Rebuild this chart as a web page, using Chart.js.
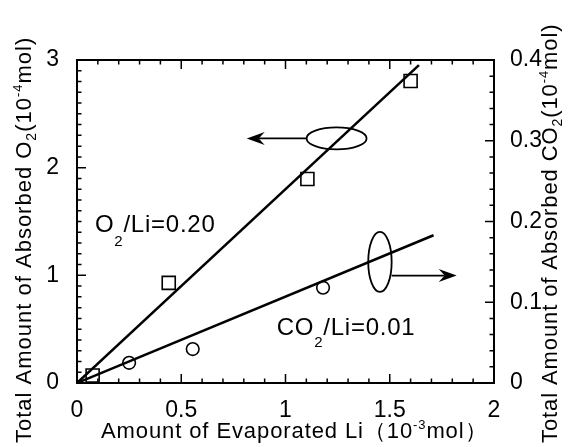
<!DOCTYPE html>
<html>
<head>
<meta charset="utf-8">
<title>Absorbed O2 and CO2 vs evaporated Li</title>
<script src="https://cdn.jsdelivr.net/npm/chart.js@4"></script>
<style>
  html, body { margin: 0; padding: 0; background: #fff; }
  canvas { display: block; }
</style>
</head>
<body>
<canvas id="absorption" width="568" height="447"></canvas>
<script>
const FONT = '"Liberation Sans", Arial, sans-serif';

// evaporated Li (10^-3 mol) against absorbed gas (10^-4 mol)
const o2Li = [0.075, 0.44, 1.105, 1.60];
const o2Absorbed = [0.07, 0.93, 1.895, 2.805];
const co2Li = [0.25, 0.555, 1.18];
const co2Absorbed = [0.025, 0.042, 0.118];

// fitted lines, both through the origin
const o2FitLi = [0, 1.64];
const o2Fit = [0, 2.953];
const co2FitLi = [0, 1.71];
const co2Fit = [0, 0.183];

const xTicks = [0, 0.5, 1, 1.5, 2];
const xTickLabels = ['0', '0.5', '1', '1.5', '2'];
const o2Ticks = [0, 1, 2, 3];
const o2TickLabels = ['0', '1', '2', '3'];
const co2Ticks = [0, 0.1, 0.2, 0.3, 0.4];
const co2TickLabels = ['0', '0.1', '0.2', '0.3', '0.4'];

// callouts: ellipse around a line, arrow toward its axis (data units)
const o2Callout = { x: 1.245, y: 2.272, tipX: 0.814 };
const co2Callout = { x: 1.453, y: 0.150, arrowY: 0.133, tipX: 1.821 };
const o2Label = { x: 0.086, y: 1.402 };
const co2Label = { x: 0.958, y: 0.0594 };

function points (xs, ys) {
  return xs.map((x, i) => ({ x, y: ys[i] }));
}

function marks (scale, step, every, draw) {
  const count = Math.round((scale.max - scale.min) / step);
  for (let i = 0; i <= count; i++) {
    draw(scale.getPixelForValue(scale.min + i * step), i % every === 0 ? 9 : 4.5);
  }
}

function richText (ctx, parts, x, y, spacing) {
  ctx.letterSpacing = spacing + 'px';
  let cursor = x;
  for (const [text, size, shift] of parts) {
    ctx.font = size + 'px ' + FONT;
    ctx.fillText(text, cursor, y + shift);
    cursor += ctx.measureText(text).width;
  }
}

function arrow (ctx, fromX, tipX, y) {
  const dir = Math.sign(tipX - fromX);
  ctx.beginPath();
  ctx.moveTo(fromX, y);
  ctx.lineTo(tipX - dir * 12, y);
  ctx.stroke();
  ctx.beginPath();
  ctx.moveTo(tipX, y);
  ctx.lineTo(tipX - dir * 18, y - 6.5);
  ctx.lineTo(tipX - dir * 12, y);
  ctx.lineTo(tipX - dir * 18, y + 6.5);
  ctx.closePath();
  ctx.fill();
}

const figure = {
  id: 'figure',
  afterDraw (chart) {
    const { ctx, chartArea: area, scales: { x, y, y2 } } = chart;
    ctx.save();
    ctx.strokeStyle = '#000';
    ctx.fillStyle = '#000';
    ctx.lineWidth = 2;
    ctx.strokeRect(area.left, area.top, area.right - area.left, area.bottom - area.top);

    // inward tick marks
    ctx.lineWidth = 1.5;
    ctx.beginPath();
    marks(x, 0.1, 5, (px, len) => {
      ctx.moveTo(px, area.bottom);
      ctx.lineTo(px, area.bottom - len);
      ctx.moveTo(px, area.top);
      ctx.lineTo(px, area.top + len);
    });
    marks(y, 0.1, 10, (py, len) => {
      ctx.moveTo(area.left, py);
      ctx.lineTo(area.left + len, py);
    });
    marks(y2, 0.02, 5, (py, len) => {
      ctx.moveTo(area.right, py);
      ctx.lineTo(area.right - len, py);
    });
    ctx.stroke();

    // callouts
    ctx.lineWidth = 1.8;
    const o2x = x.getPixelForValue(o2Callout.x);
    const o2y = y.getPixelForValue(o2Callout.y);
    ctx.beginPath();
    ctx.ellipse(o2x, o2y, 30, 11, 0, 0, Math.PI * 2);
    ctx.stroke();
    arrow(ctx, o2x - 30, x.getPixelForValue(o2Callout.tipX), o2y);

    const co2x = x.getPixelForValue(co2Callout.x);
    const co2y = y2.getPixelForValue(co2Callout.y);
    ctx.beginPath();
    ctx.ellipse(co2x, co2y, 11.7, 30, 0, 0, Math.PI * 2);
    ctx.stroke();
    arrow(ctx, co2x + 11.7, x.getPixelForValue(co2Callout.tipX), y2.getPixelForValue(co2Callout.arrowY));

    // ratio labels
    ctx.textBaseline = 'alphabetic';
    ctx.textAlign = 'left';
    richText(ctx, [['O', 24, 0], ['2', 15, 14], ['/Li=0.20', 24, 0]],
      x.getPixelForValue(o2Label.x), y.getPixelForValue(o2Label.y), 0.75);
    richText(ctx, [['CO', 24, 0], ['2', 15, 12], ['/Li=0.01', 24, 0]],
      x.getPixelForValue(co2Label.x), y2.getPixelForValue(co2Label.y), 0.75);

    // axis titles
    richText(ctx, [['Amount of Evaporated Li', 22, 0], ['（10', 22, 0], ['-3', 13, -9], ['mol）', 22, 0]], 101, 438, 0.9);

    ctx.save();
    ctx.translate(31, 443);
    ctx.rotate(-Math.PI / 2);
    richText(ctx, [['Total Amount of Absorbed O', 22, 0], ['2', 14, 5], ['(10', 22, 0], ['-4', 13, -9], ['mol)', 22, 0]], 0, 0, 1);
    ctx.restore();

    ctx.save();
    ctx.translate(557, 443);
    ctx.rotate(-Math.PI / 2);
    richText(ctx, [['Total Amount of Absorbed CO', 22, 0], ['2', 14, 5], ['(10', 22, 0], ['-4', 13, -9], ['mol)', 22, 0]], 0, 0, 0.9);
    ctx.restore();

    ctx.restore();
  }
};

const tickFont = { family: FONT, size: 23 };

// eslint-disable-next-line no-undef
const absorptionChart = new Chart('absorption', {
  type: 'scatter',
  data: {
    datasets: [
      { data: points(o2FitLi, o2Fit), showLine: true, pointRadius: 0, borderColor: '#000', borderWidth: 2.5, yAxisID: 'y' },
      { data: points(co2FitLi, co2Fit), showLine: true, pointRadius: 0, borderColor: '#000', borderWidth: 2.5, yAxisID: 'y2' },
      { data: points(o2Li, o2Absorbed), pointStyle: 'rect', pointRadius: 9.2, borderColor: '#000', borderWidth: 1.6, backgroundColor: 'transparent', clip: false, yAxisID: 'y' },
      { data: points(co2Li, co2Absorbed), pointStyle: 'circle', pointRadius: 6.3, borderColor: '#000', borderWidth: 1.6, backgroundColor: 'transparent', clip: false, yAxisID: 'y2' }
    ]
  },
  options: {
    responsive: false,
    animation: false,
    devicePixelRatio: 1,
    layout: { padding: { top: 60 } },
    plugins: { legend: { display: false }, tooltip: { enabled: false } },
    scales: {
      x: {
        type: 'linear',
        min: 0,
        max: 2,
        grid: { display: false },
        border: { display: false },
        afterBuildTicks: scale => { scale.ticks = xTicks.map(value => ({ value })); },
        afterFit: scale => { scale.height = 64; },
        ticks: { font: tickFont, color: '#000', padding: 6, maxRotation: 0, autoSkip: false, callback: (value, i) => xTickLabels[i] }
      },
      y: {
        position: 'left',
        min: 0,
        max: 3,
        grid: { display: false },
        border: { display: false },
        afterBuildTicks: scale => { scale.ticks = o2Ticks.map(value => ({ value })); },
        afterFit: scale => { scale.width = 77; },
        ticks: { font: tickFont, color: '#000', padding: 10, autoSkip: false, callback: (value, i) => o2TickLabels[i] }
      },
      y2: {
        position: 'right',
        min: 0,
        max: 0.4,
        grid: { display: false },
        border: { display: false },
        afterBuildTicks: scale => { scale.ticks = co2Ticks.map(value => ({ value })); },
        afterFit: scale => { scale.width = 74; },
        ticks: { font: tickFont, color: '#000', padding: 8, autoSkip: false, callback: (value, i) => co2TickLabels[i] }
      }
    }
  },
  plugins: [figure]
});
</script>
</body>
</html>
